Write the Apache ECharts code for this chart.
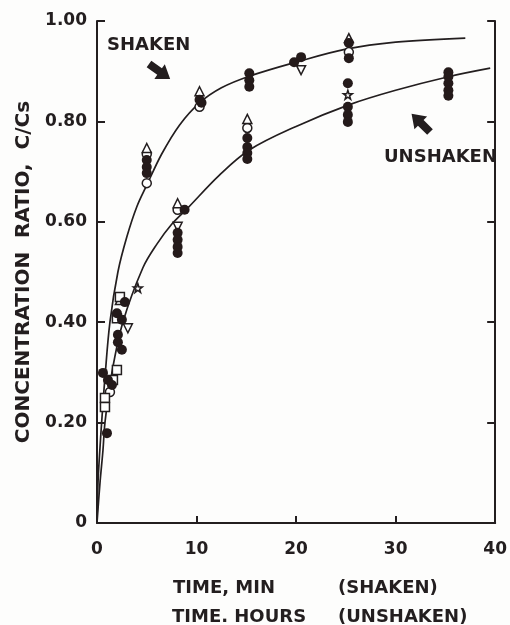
<!DOCTYPE html>
<html>
<head>
<meta charset="utf-8">
<title>Concentration ratio vs time</title>
<script src="https://cdn.jsdelivr.net/npm/echarts@6/dist/echarts.min.js"></script>
<style>
  html, body { margin: 0; padding: 0; background: #fdfdfc; }
  #chart { width: 510px; height: 625px; }
</style>
</head>
<body>
<div id="chart"></div>
<script>
// x: minutes (shaken) / hours (unshaken), y: C/Cs
const yTicks = [0, 0.2, 0.4, 0.6, 0.8, 1.0];
const xTicks = [0, 10, 20, 30, 40];

// fitted curves
const shakenCurve = [
  [0, 0], [0.1, 0.08], [0.3, 0.15], [0.5, 0.21], [0.8, 0.29], [1.3, 0.40],
  [2.1, 0.50], [3, 0.57], [4, 0.63], [5, 0.673], [6.5, 0.735], [8.3, 0.793],
  [10.3, 0.837], [12.5, 0.867], [15.3, 0.89], [20, 0.918], [25, 0.944],
  [30, 0.958], [37, 0.966]
];
const unshakenCurve = [
  [0, 0], [0.3, 0.08], [0.6, 0.145], [0.8, 0.20], [1.5, 0.30], [2.6, 0.40],
  [4.6, 0.508], [6, 0.555], [7.5, 0.595], [9, 0.625], [12.3, 0.693], [15.3, 0.743],
  [20, 0.79], [25.3, 0.833], [30, 0.862], [35.3, 0.889], [39.5, 0.906]
];

// measured points by marker type
const filledPts = [
  [0.6, 0.299], [1.0, 0.179], [2.0, 0.418], [2.5, 0.405], [5.0, 0.723], [5.0, 0.709],
  [5.0, 0.697], [10.3, 0.843], [10.5, 0.837], [15.3, 0.896], [15.3, 0.882], [15.3, 0.869],
  [19.8, 0.918], [20.5, 0.928], [25.3, 0.956], [25.3, 0.926],
  [1.1, 0.285], [1.5, 0.275], [2.1, 0.375], [2.1, 0.36], [2.5, 0.345], [2.8, 0.44],
  [8.8, 0.624], [8.1, 0.578], [8.1, 0.564], [8.1, 0.55], [8.1, 0.538],
  [15.1, 0.767], [15.1, 0.749], [15.1, 0.737], [15.1, 0.725],
  [25.2, 0.876], [25.2, 0.829], [25.2, 0.813], [25.2, 0.799],
  [35.3, 0.898], [35.3, 0.889], [35.3, 0.876], [35.3, 0.862], [35.3, 0.851]
];
const openCirclePts = [[1.3, 0.261], [5.0, 0.735], [5.0, 0.677], [10.3, 0.829], [25.3, 0.938], [8.1, 0.624], [15.1, 0.787]];
const trianglePts = [[2.3, 0.444], [5.0, 0.747], [10.3, 0.86], [25.3, 0.966], [8.1, 0.637], [15.1, 0.805]];
const invTrianglePts = [[20.5, 0.902], [3.1, 0.388], [8.1, 0.59]];
const squarePts = [[0.8, 0.249], [0.8, 0.231], [2.3, 0.45], [2.0, 0.408], [2.0, 0.305], [1.6, 0.285]];
const starPts = [[4.1, 0.468], [25.2, 0.853]];

const INK = '#231e1f';
const FONT = 'DejaVu Sans';
const LABEL_FONT = 'bold 18px "DejaVu Sans"';

const chart = echarts.init(document.getElementById('chart'));

function openSeries(name, data, symbol, rotate) {
  return {
    name, type: 'scatter', data, symbol, symbolSize: 9, symbolRotate: rotate || 0, z: 3,
    itemStyle: { color: '#fff', borderColor: INK, borderWidth: 1.5, opacity: 1 }
  };
}

// block arrow pointing right, tail at origin
const arrowPts = [[0, -4], [13, -4], [13, -9], [26, 0], [13, 9], [13, 4], [0, 4]];

function label(text, x, y) {
  return { type: 'text', x, y, style: { text, fill: INK, font: LABEL_FONT, textVerticalAlign: 'middle' } };
}

const option = {
  backgroundColor: '#fdfdfc',
  animation: false,
  grid: { left: 97, right: 13, top: 21, bottom: 102 },
  xAxis: {
    type: 'value', min: 0, max: 40, interval: 10,
    axisLine: { lineStyle: { color: INK, width: 2 } },
    axisTick: { inside: true, length: 7, lineStyle: { color: INK, width: 2 } },
    axisLabel: { color: INK, fontFamily: FONT, fontWeight: 'bold', fontSize: 17, margin: 18 },
    splitLine: { show: false }
  },
  yAxis: [{
    type: 'value', min: 0, max: 1, interval: 0.2,
    name: 'CONCENTRATION  RATIO,  C/Cs', nameLocation: 'middle', nameGap: 59, nameRotate: 90,
    nameTextStyle: { color: INK, fontFamily: FONT, fontWeight: 'bold', fontSize: 20 },
    axisLine: { show: true, lineStyle: { color: INK, width: 2 } },
    axisTick: { show: true, inside: true, length: 8, lineStyle: { color: INK, width: 2 } },
    axisLabel: {
      color: INK, fontFamily: FONT, fontWeight: 'bold', fontSize: 17, margin: 10,
      formatter: v => (v === 0 ? '0' : v.toFixed(2))
    },
    splitLine: { show: false }
  }, {
    type: 'value', min: 0, max: 1, interval: 0.2, position: 'right',
    axisLine: { show: true, lineStyle: { color: INK, width: 2 } },
    axisTick: { show: true, inside: true, length: 8, lineStyle: { color: INK, width: 2 } },
    axisLabel: { show: false },
    splitLine: { show: false }
  }],
  series: [
    { name: 'shaken fit', type: 'line', data: shakenCurve, smooth: 0.35,
      showSymbol: false, lineStyle: { color: INK, width: 1.7 }, z: 2 },
    { name: 'unshaken fit', type: 'line', data: unshakenCurve, smooth: 0.35,
      showSymbol: false, lineStyle: { color: INK, width: 1.7 }, z: 2 },
    { name: 'filled', type: 'scatter', data: filledPts, symbol: 'circle', symbolSize: 10, z: 4,
      itemStyle: { color: '#241a1a', opacity: 1 } },
    openSeries('open circle', openCirclePts, 'circle'),
    openSeries('triangle', trianglePts, 'triangle'),
    openSeries('inverted triangle', invTrianglePts, 'triangle', 180),
    openSeries('square', squarePts, 'rect'),
    openSeries('star', starPts, 'path://M5,0 L6.2,3.6 L10,3.6 L7,5.9 L8.1,9.5 L5,7.3 L1.9,9.5 L3,5.9 L0,3.6 L3.8,3.6 Z')
  ],
  graphic: [
    label('SHAKEN', 107, 45),
    label('UNSHAKEN', 384, 157),
    { type: 'polygon', x: 149, y: 64, rotation: -0.62,
      shape: { points: arrowPts }, style: { fill: INK } },
    { type: 'polygon', x: 430, y: 132, rotation: 2.36,
      shape: { points: arrowPts }, style: { fill: INK } },
    label('TIME, MIN', 173, 588),
    label('(SHAKEN)', 338, 588),
    label('TIME. HOURS', 172, 617),
    label('(UNSHAKEN)', 338, 617)
  ]
};

chart.setOption(option);
</script>
</body>
</html>
